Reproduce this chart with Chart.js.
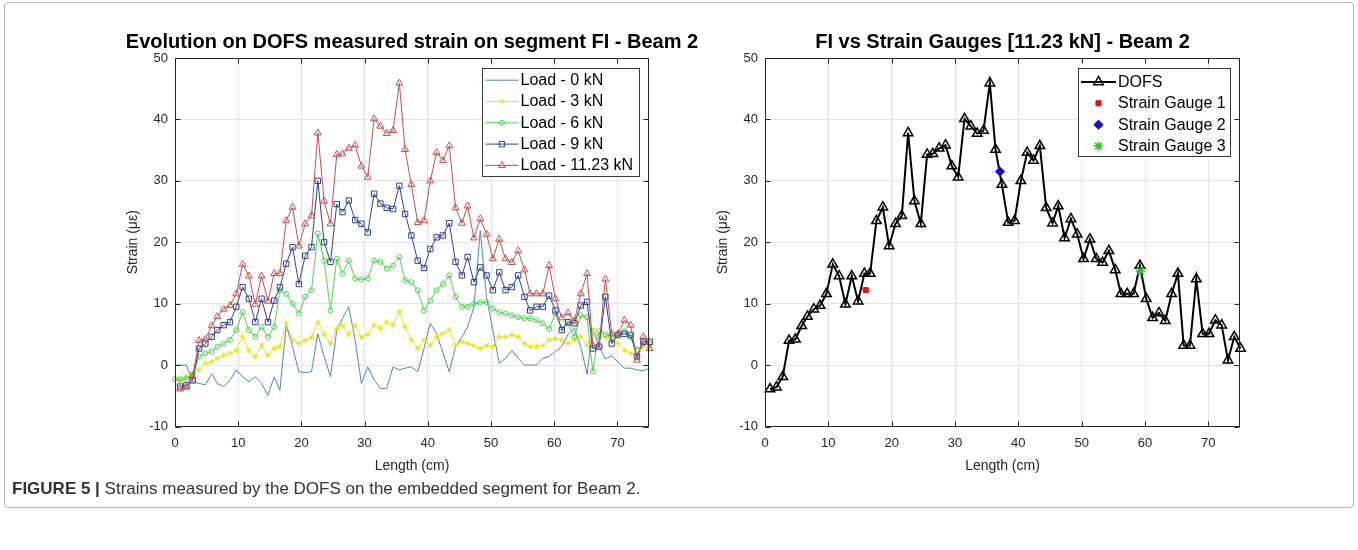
<!DOCTYPE html>
<html>
<head>
<meta charset="utf-8">
<script src="https://cdn.jsdelivr.net/npm/chart.js@4.4.1/dist/chart.umd.min.js"></script>
<style>
  body { margin: 0; background: #fff; width: 1358px; height: 550px; overflow: hidden;
         font-family: "Liberation Sans", Arial, sans-serif; }
  #frame { position: absolute; left: 4px; top: 2px; width: 1348px; height: 504px;
           border: 1px solid #b4b4b4; border-radius: 4px; }
  .wrap { position: absolute; top: 20px; width: 640px; height: 470px; }
  #caption { position: absolute; left: 12px; top: 479px; font-size: 17px; color: #333; }
</style>
</head>
<body>
<div id="frame"></div>
<div class="wrap" style="left:80px"><canvas id="left" width="640" height="470"></canvas></div>
<div class="wrap" style="left:690px"><canvas id="right" width="640" height="470"></canvas></div>
<div id="caption"><b>FIGURE 5 |</b> Strains measured by the DOFS on the embedded segment for Beam 2.</div>

<script>
// ---- data (strain in microstrain, length in cm) ----
const lengths = [0,
  0.8, 1.8, 2.8, 3.8, 4.8, 5.8, 6.7, 7.7, 8.7, 9.7,
  10.7, 11.7, 12.7, 13.7, 14.7, 15.7, 16.6, 17.6, 18.6, 19.6,
  20.6, 21.6, 22.6, 23.6, 24.6, 25.6, 26.5, 27.5, 28.5, 29.5,
  30.5, 31.5, 32.5, 33.5, 34.5, 35.5, 36.4, 37.4, 38.4, 39.4,
  40.4, 41.4, 42.4, 43.4, 44.4, 45.4, 46.3, 47.3, 48.3, 49.3,
  50.3, 51.3, 52.3, 53.3, 54.3, 55.3, 56.2, 57.2, 58.2, 59.2,
  60.2, 61.2, 62.2, 63.2, 64.2, 65.2, 66.1, 67.1, 68.1, 69.1,
  70.1, 71.1, 72.1, 73.1, 74.1, 75.1];

const load0 = [0,
  0, 0, -2.7, -3, -3.2, -1.4, -3, -3.5, -2.5, -0.8,
  -1.9, -2.7, -1.9, -3, -4.9, -1.9, -4.1, 6.5, 3, -1.1,
  -1.2, -1.1, 5.1, 1.4, -1.9, 5.7, 7.6, 9.5, 4.1, -3,
  -0.3, -2.4, -3.8, -3.8, -0.3, -0.8, -0.5, -0.3, -1.1, 2.7,
  6.8, 5.1, 2, -1.1, 3, 4.6, 6.2, 9.4, 21.9, 11,
  5.7, 0.3, 1.1, 2.4, 1.1, 0, 0, 0, 1.1, 1.4,
  2.2, 3, 5, 6, 3, -1.5, 6, 3, 1, 1.5,
  0.5, -0.5, -0.5, -0.8, -0.9, -0.5];

const load3 = [null,
  -2.5, -1.9, -1.4, -0.8, 0.3, 0.5, 1.1, 1.6, 1.9, 2.4,
  4.6, 2.4, 1.4, 3.2, 1.6, 2.7, 3, 6.8, 4.1, 3.5,
  4, 4.5, 7, 5, 3.5, 6, 6.5, 5, 6.5, 4.5,
  5, 6.5, 6, 7, 6.5, 8.7, 6.2, 4.1, 2.7, 4.1,
  3.2, 4.6, 5.1, 5.7, 3.2, 3.8, 3.5, 3.2, 2.7, 3.2,
  3, 4.6, 4.6, 4.9, 4.6, 3.5, 3, 3, 3.2, 4.1,
  4.3, 4.1, 3.5, 4.1, 4.6, 3.2, 5.7, 4.6, 4.5, 4.1,
  3.5, 2.4, 1.9, 1.4, 3, 3];

const load6 = [-2.3,
  -2.3, -2.2, -1.5, 1.4, 1.9, 2.2, 3, 3.5, 4.1, 5.7,
  8.6, 5.7, 4.6, 6.2, 4.6, 6.2, 12.2, 11.6, 10, 8.4,
  11.1, 12.2, 21.4, 17, 8.9, 17.3, 14.9, 17, 14.1, 13.9,
  14.1, 17, 16.8, 15.7, 16.2, 17.6, 13.8, 13.5, 12.2, 8.9,
  10.5, 12.2, 13.2, 14.6, 11.1, 9.5, 9.5, 10, 10.2, 10.2,
  9.2, 8.6, 8.4, 8.1, 7.8, 7.6, 7.6, 7.3, 6.8, 5.9,
  8.4, 6, 6.8, 4.6, 8.1, 7.8, -1, 5.5, 5, 4.5,
  5, 5.5, 4.5, 2.5, 3.5, 3.5];

const load9 = [null,
  -3.5, -3.3, -2.5, 2.7, 3.5, 4.6, 5.7, 6.5, 7, 9.5,
  12.7, 10.8, 7, 10.8, 7, 10.5, 12.7, 16.5, 19.2, 13.2,
  17.8, 19.2, 30, 20, 16.8, 26.2, 24.9, 26.8, 23.6, 23,
  21.6, 27.9, 26.3, 25.6, 25.4, 29.2, 24.6, 21.1, 17, 15.8,
  18.9, 20.8, 21.1, 23.1, 16.8, 14.6, 17.6, 13.5, 15.9, 14.6,
  12.2, 15.1, 12.2, 12.7, 14.6, 11.1, 8.9, 9.5, 9.5, 11.3,
  8.9, 5.7, 7, 6.8, 9.7, 10.3, 2.7, 3, 11.1, 3.5,
  4.9, 5.1, 4.9, 1.4, 3.8, 3.8];

// 11.23 kN: same curve as the DOFS series on the right
const load11 = [null,
  -3.9, -3.6, -1.9, 4, 4.2, 6.4, 7.9, 9.1, 9.7, 11.6,
  16.4, 14.5, 9.9, 14.5, 10.4, 14.9, 14.9, 23.5, 25.7, 19.4,
  23, 24.3, 37.8, 26.7, 23, 34.3, 34.4, 35.3, 35.8, 32.4,
  30.6, 40.1, 38.9, 37.7, 38.2, 45.9, 35.1, 29.4, 23.2, 23.5,
  30, 34.6, 33.3, 35.7, 25.6, 23.1, 25.9, 20.7, 23.8, 21.3,
  17.3, 20.5, 17.3, 16.7, 18.6, 15.5, 11.6, 11.6, 11.6, 16.2,
  10.8, 7.7, 8.5, 7.2, 11.6, 14.9, 3.2, 3.2, 14, 5.1,
  5.1, 7.3, 6.5, 0.8, 4.6, 2.7];

const gaugeLengths = [15.9, 37.1, 59.3];
const gaugeStrains = [12.2, 31.5, 15.3];

const loadLabels = ['Load - 0 kN', 'Load - 3 kN', 'Load - 6 kN', 'Load - 9 kN', 'Load - 11.23 kN'];
const gaugeLabels = ['Strain Gauge 1', 'Strain Gauge 2', 'Strain Gauge 3'];
const xTicks = [0, 10, 20, 30, 40, 50, 60, 70];
const yTicks = [-10, 0, 10, 20, 30, 40, 50];

// ---- styles ----
const FONT = '"Liberation Sans", Arial, Helvetica, sans-serif';
const loadStyles = [
  { color: '#5684b4', width: 1, style: 'circle', radius: 0 },
  { color: '#e4e42c', width: 1, style: 'star', radius: 3 },
  { color: '#4fd24f', width: 1, style: 'circle', radius: 2.5 },
  { color: '#2f3f96', width: 1, style: 'rect', radius: 3.8 },
  { color: '#c44e4e', width: 1, style: 'triangle', radius: 4 }
];
const gaugeStyles = [
  { color: '#e01010', style: 'rect', radius: 3.6, fill: true },
  { color: '#1010d8', style: 'rectRot', radius: 4.6, fill: true },
  { color: '#30c030', style: 'star', radius: 4.6, fill: false }
];

function pts(xs, ys) {
  return xs.map((x, i) => ({ x: x, y: ys[i] }));
}

function drawMarker(ctx, st, x, y, bw) {
  if (!st.radius) return;
  Chart.helpers.drawPoint(ctx, { pointStyle: st.style, radius: st.radius, rotation: 0, borderWidth: bw }, x, y);
}

// box, inner ticks, title and in-axes legend, MATLAB style
const matlabBox = {
  id: 'matlabBox',
  afterDraw(chart, args, opts) {
    const { ctx, chartArea: a } = chart;
    const xs = chart.scales.x, ys = chart.scales.y;
    const L = Math.round(a.left) + 0.5, R = Math.round(a.right) - 0.5;
    const T = Math.round(a.top) + 0.5, B = Math.round(a.bottom) - 0.5;
    ctx.save();
    ctx.strokeStyle = '#262626';
    ctx.lineWidth = 1;
    ctx.beginPath();
    xTicks.forEach(v => {
      const p = Math.round(xs.getPixelForValue(v)) + 0.5;
      ctx.moveTo(p, B); ctx.lineTo(p, B - 5);
      ctx.moveTo(p, T); ctx.lineTo(p, T + 5);
    });
    yTicks.forEach(v => {
      const p = Math.round(ys.getPixelForValue(v)) + 0.5;
      ctx.moveTo(L, p); ctx.lineTo(L + 5, p);
      ctx.moveTo(R, p); ctx.lineTo(R - 5, p);
    });
    ctx.stroke();
    ctx.strokeRect(L, T, R - L, B - T);

    // title
    ctx.fillStyle = '#000';
    ctx.font = 'bold 20px ' + FONT;
    ctx.textAlign = 'center';
    ctx.textBaseline = 'alphabetic';
    ctx.fillText(opts.title, (a.left + a.right) / 2, a.top - 10);

    // legend
    const lg = opts.legend;
    const bx = Math.round(a.right - 10 - lg.w) + 0.5, by = Math.round(a.top + 10) + 0.5;
    ctx.fillStyle = '#fff';
    ctx.fillRect(bx, by, lg.w, lg.h);
    ctx.strokeStyle = '#3a3a3a';
    ctx.strokeRect(bx, by, lg.w, lg.h);
    ctx.font = '16px ' + FONT;
    ctx.textAlign = 'left';
    ctx.textBaseline = 'middle';
    lg.items.forEach((it, i) => {
      const yy = by + lg.first + i * lg.step;
      if (it.line) {
        ctx.strokeStyle = it.color;
        ctx.lineWidth = it.lineWidth;
        ctx.beginPath();
        ctx.moveTo(bx + lg.lx0, yy); ctx.lineTo(bx + lg.lx1, yy);
        ctx.stroke();
      }
      ctx.strokeStyle = it.color;
      ctx.fillStyle = it.fill ? it.color : 'rgba(0,0,0,0)';
      ctx.lineWidth = it.markerWidth;
      drawMarker(ctx, it, bx + (lg.lx0 + lg.lx1) / 2, yy, it.markerWidth);
      ctx.fillStyle = '#000';
      ctx.fillText(it.label, bx + lg.tx, yy + 0.5);
    });
    ctx.restore();
  }
};

function axesOptions(leftPad, rightPad, title, legend) {
  return {
    responsive: false,
    animation: false,
    devicePixelRatio: 1,
    layout: { padding: { left: leftPad, right: rightPad, top: 38, bottom: 0 } },
    plugins: {
      legend: { display: false },
      tooltip: { enabled: false },
      matlabBox: { title: title, legend: legend }
    },
    scales: {
      x: {
        type: 'linear', min: 0, max: 75,
        afterFit: s => { s.height = 63.5; },
        afterBuildTicks: s => { s.ticks = xTicks.map(v => ({ value: v })); },
        grid: { color: '#e4e4e4', drawTicks: false },
        border: { display: false },
        ticks: { padding: 9, color: '#262626', font: { family: FONT, size: 13 } },
        title: { display: true, text: 'Length (cm)', color: '#262626',
                 font: { family: FONT, size: 14 }, padding: { top: 0, bottom: 15.5 } }
      },
      y: {
        type: 'linear', min: -10, max: 50,
        afterFit: s => { s.width = 75; },
        afterBuildTicks: s => { s.ticks = yTicks.map(v => ({ value: v })); },
        grid: { color: '#e4e4e4', drawTicks: false },
        border: { display: false },
        ticks: { padding: 7, color: '#262626', font: { family: FONT, size: 13 } },
        title: { display: true, text: 'Strain (\u03bc\u03b5)', color: '#262626',
                 font: { family: FONT, size: 14 }, padding: { top: 25, bottom: 0 } }
      }
    }
  };
}

// ---- left: all load steps ----
const loadSeries = [load0, load3, load6, load9, load11];
const leftSets = loadSeries.map((ys, i) => {
  const st = loadStyles[i];
  return {
    label: loadLabels[i],
    data: pts(lengths, ys),
    borderColor: st.color,
    borderWidth: st.width,
    pointStyle: st.style,
    pointRadius: st.radius,
    pointBorderColor: st.color,
    pointBackgroundColor: 'rgba(0,0,0,0)',
    pointBorderWidth: 1,
    tension: 0,
    clip: false,
    order: 5 - i
  };
});

new Chart(document.getElementById('left'), {
  type: 'line',
  data: { datasets: leftSets },
  options: axesOptions(20, 71, 'Evolution on DOFS measured strain on segment FI - Beam 2', {
    w: 157, h: 108, first: 11.7, step: 21.3, lx0: 3, lx1: 36, tx: 38,
    items: loadStyles.map((st, i) => Object.assign({ label: loadLabels[i], line: true,
      lineWidth: 1, markerWidth: 1, fill: false }, st))
  }),
  plugins: [matlabBox]
});

// ---- right: DOFS at 11.23 kN vs strain gauges ----
const rightSets = [{
  label: 'DOFS',
  data: pts(lengths, load11),
  borderColor: '#000',
  borderWidth: 2,
  pointStyle: 'triangle',
  pointRadius: 5.5,
  pointBorderColor: '#000',
  pointBackgroundColor: 'rgba(0,0,0,0)',
  pointBorderWidth: 1.5,
  tension: 0,
  clip: false,
  order: 4
}];
gaugeLabels.forEach((lab, i) => {
  const st = gaugeStyles[i];
  rightSets.push({
    label: lab,
    data: [{ x: gaugeLengths[i], y: gaugeStrains[i] }],
    showLine: false,
    pointStyle: st.style,
    pointRadius: st.radius,
    pointBorderColor: st.color,
    pointBackgroundColor: st.fill ? st.color : 'rgba(0,0,0,0)',
    pointBorderWidth: st.fill ? 1 : 1.5,
    clip: false,
    order: 3 - i
  });
});

new Chart(document.getElementById('right'), {
  type: 'line',
  data: { datasets: rightSets },
  options: axesOptions(0, 90, 'FI vs Strain Gauges [11.23 kN] - Beam 2', {
    w: 152, h: 88, first: 13.4, step: 21.4, lx0: 2.5, lx1: 37.5, tx: 39.5,
    items: [{ label: 'DOFS', line: true, color: '#000', lineWidth: 2, style: 'triangle',
              radius: 5.5, markerWidth: 1.5, fill: false }]
      .concat(gaugeStyles.map((st, i) => Object.assign({ label: gaugeLabels[i], line: false,
              markerWidth: st.fill ? 1 : 1.5 }, st)))
  }),
  plugins: [matlabBox]
});
</script>
</body>
</html>
